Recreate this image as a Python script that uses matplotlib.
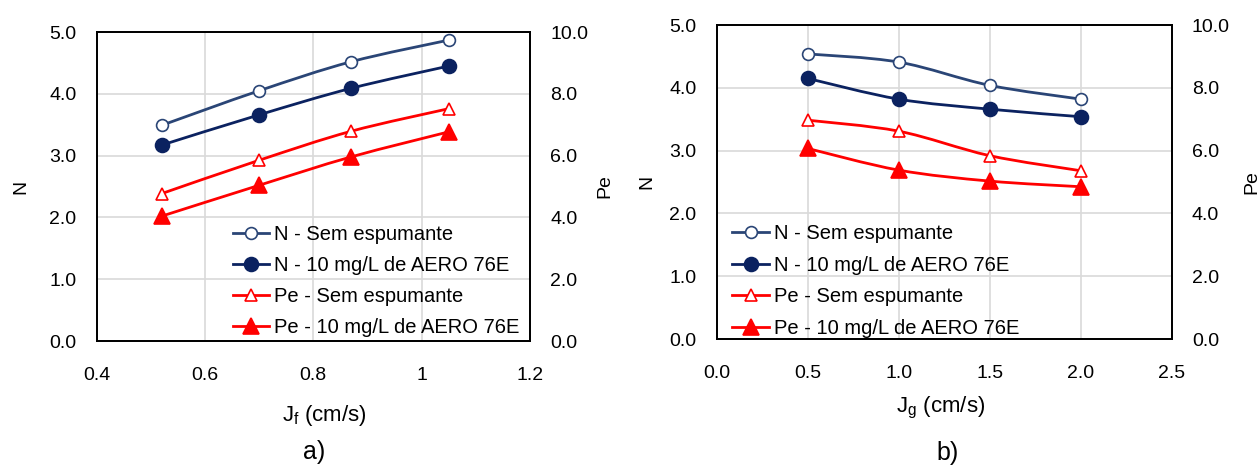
import matplotlib
matplotlib.use("Agg")
import matplotlib.pyplot as plt
import numpy as np
from matplotlib.lines import Line2D
from matplotlib.patches import PathPatch
from matplotlib.path import Path

plt.rcParams["font.family"] = ["Liberation Sans", "DejaVu Sans"]
plt.rcParams["mathtext.fontset"] = "custom"
plt.rcParams["mathtext.rm"] = "Liberation Sans"
plt.rcParams["mathtext.it"] = "Liberation Sans:italic"

# ---- data, panel a (liquid velocity) ----
jf = [0.52, 0.70, 0.87, 1.05]
n_sem_a = [3.49, 4.05, 4.52, 4.87]
n_aero_a = [3.17, 3.66, 4.09, 4.45]
pe_sem_a = [4.77, 5.85, 6.79, 7.52]
pe_aero_a = [4.04, 5.04, 5.96, 6.77]

# ---- data, panel b (gas velocity) ----
jg = [0.5, 1.0, 1.5, 2.0]
n_sem_b = [4.54, 4.41, 4.04, 3.82]
n_aero_b = [4.15, 3.82, 3.66, 3.54]
pe_sem_b = [6.97, 6.62, 5.84, 5.36]
pe_aero_b = [6.07, 5.38, 5.03, 4.85]

labels = ["N - Sem espumante", "N - 10 mg/L de AERO 76E",
          "Pe - Sem espumante", "Pe - 10 mg/L de AERO 76E"]

C_N_SEM = "#2A4576"
C_N_AERO = "#0B2260"
C_RED = "#FF0000"

STYLES = [
    dict(color=C_N_SEM, marker="o", mfc="white", ms=8.5),
    dict(color=C_N_AERO, marker="o", mfc=C_N_AERO, ms=10),
    dict(color=C_RED, marker="^", mfc="white", ms=9),
    dict(color=C_RED, marker="^", mfc=C_RED, ms=11),
]
LW = 2.0


def smooth_path(x, y):
    # Excel-like smoothed line: cubic Bezier through the points
    p = np.column_stack([x, y]).astype(float)
    verts = [p[0]]
    codes = [Path.MOVETO]
    n = len(p)
    for i in range(n - 1):
        prev = p[i - 1] if i > 0 else p[i]
        nxt = p[i + 2] if i + 2 < n else p[i + 1]
        c1 = p[i] + (p[i + 1] - prev) / 6.0
        c2 = p[i + 1] - (nxt - p[i]) / 6.0
        verts += [c1, c2, p[i + 1]]
        codes += [Path.CURVE4] * 3
    return Path(verts, codes)


def draw_series(ax, x, y, st):
    ax.add_patch(PathPatch(smooth_path(x, y), fill=False, edgecolor=st["color"],
                           lw=LW, zorder=3))
    ax.plot(x, y, ls="none", marker=st["marker"], ms=st["ms"], mfc=st["mfc"],
            mec=st["color"], mew=1.2, zorder=4)


def panel(rect, x, series, xlim, xticks, xticklabels, xlabel, tag, tag_xy,
          xlabel_xy, leg_anchor, n_x, pe_x, spacing):
    ax = fig.add_axes(rect)
    ax2 = ax.twinx()
    ax.set_xlim(*xlim)
    ax.set_ylim(0, 5)
    ax2.set_ylim(0, 10)
    ax.set_xticks(xticks)
    ax.set_xticklabels(xticklabels)
    ax.set_yticks(np.arange(0, 5.01, 1.0))
    ax.set_yticklabels([f"{v:.1f}" for v in np.arange(0, 5.01, 1.0)])
    ax2.set_yticks(np.arange(0, 10.01, 2.0))
    ax2.set_yticklabels([f"{v:.1f}" for v in np.arange(0, 10.01, 2.0)])
    ax.grid(True, color="#D9D9D9", lw=1.2)
    ax.set_axisbelow(True)
    for a in (ax, ax2):
        a.tick_params(length=0, labelsize=14, pad=14.5)
        for s in a.spines.values():
            s.set_color("black")
            s.set_linewidth(1.3)
    ax.tick_params(axis="x", pad=19)

    draw_series(ax, x, series[0], STYLES[0])
    draw_series(ax, x, series[1], STYLES[1])
    draw_series(ax2, x, series[2], STYLES[2])
    draw_series(ax2, x, series[3], STYLES[3])

    ax.set_ylabel("N", fontsize=14)
    ax2.set_ylabel("Pe", fontsize=14)
    ax.yaxis.set_label_coords(n_x, 0.5)
    ax2.yaxis.set_label_coords(pe_x, 0.5)

    fig.text(*xlabel_xy, xlabel, fontsize=16, ha="center", va="center")
    fig.text(*tag_xy, tag, fontsize=18, ha="center", va="center")

    handles = [Line2D([], [], color=st["color"], lw=LW, marker=st["marker"],
                      ms=st["ms"], mfc=st["mfc"], mec=st["color"], mew=1.2)
               for st in STYLES]
    ax2.legend(handles, labels, loc="upper left", bbox_to_anchor=leg_anchor,
               bbox_transform=fig.transFigure, frameon=False, fontsize=14.5,
               handlelength=1.8, handletextpad=0.25, labelspacing=spacing,
               borderpad=0, borderaxespad=0)
    return ax, ax2


fig = plt.figure(figsize=(12.6, 4.66), dpi=100)

panel([0.0766, 0.2682, 0.344, 0.663], jf,
      [n_sem_a, n_aero_a, pe_sem_a, pe_aero_a],
      (0.4, 1.2), [0.4, 0.6, 0.8, 1.0, 1.2], ["0.4", "0.6", "0.8", "1", "1.2"],
      r"J$_\mathrm{f}$ (cm/s)", "a)", (0.2492, 0.030), (0.2571, 0.109),
      (0.185, 0.517), -0.155, 1.153, 0.60)

panel([0.5687, 0.2725, 0.3612, 0.6738], jg,
      [n_sem_b, n_aero_b, pe_sem_b, pe_aero_b],
      (0.0, 2.5), [0.0, 0.5, 1.0, 1.5, 2.0, 2.5],
      ["0.0", "0.5", "1.0", "1.5", "2.0", "2.5"],
      r"J$_\mathrm{g}$ (cm/s)", "b)", (0.7521, 0.028), (0.7468, 0.124),
      (0.5813, 0.520), -0.135, 1.157, 0.64)

fig.savefig("out.png", dpi=100)
